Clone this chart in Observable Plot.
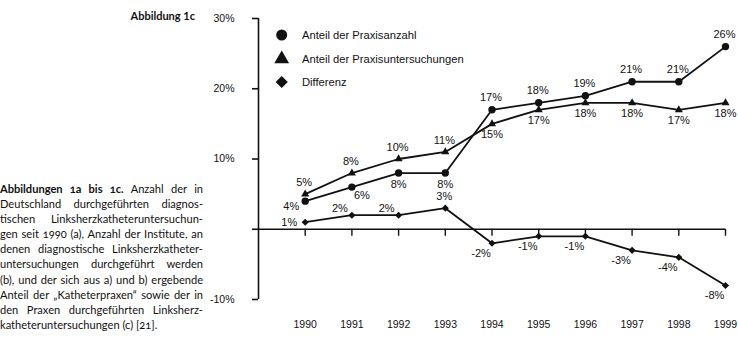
<!DOCTYPE html>
<html><head><meta charset="utf-8">
<script src="https://cdn.jsdelivr.net/npm/d3@7"></script>
<script src="https://cdn.jsdelivr.net/npm/@observablehq/plot@0.6"></script>
<style>
body{margin:0;background:#fff;}
#wrap{position:relative;width:738px;height:357px;overflow:hidden;font-family:"Liberation Sans",Arial,sans-serif;color:#111;}
#chart{position:absolute;left:0;top:0;}
#head{position:absolute;right:543px;top:9px;font-family:Lato,sans-serif;font-weight:bold;font-size:11px;white-space:nowrap;}
#cap{position:absolute;left:0;top:180.5px;width:203px;font-family:Lato,sans-serif;font-size:11.1px;font-variant-numeric:oldstyle-nums;}
#cap div{height:15.2px;line-height:15.2px;text-align:justify;text-align-last:justify;overflow:visible;}
#cap div.last{text-align:left;text-align-last:left;}
#legend{position:absolute;left:0;top:0;pointer-events:none;}
</style></head>
<body><div id="wrap">
<div id="chart"></div>
<div id="head">Abbildung 1c</div>
<div id="cap"></div>
<svg id="legend" width="738" height="357"></svg>
</div>
<script>
const years = [1990,1991,1992,1993,1994,1995,1996,1997,1998,1999];
const praxisanzahl = [4,6,8,8,17,18,19,21,21,26];
const praxisuntersuchungen = [5,8,10,11,15,17,18,18,17,18];
const differenz = [1,2,2,3,-2,-1,-1,-3,-4,-8];
const seriesNames = ["Anteil der Praxisanzahl","Anteil der Praxisuntersuchungen","Differenz"];
const seriesSymbols = ["circle","triangle","diamond2"];
const yTicks = [-10,0,10,20,30];
const captionLines = [
  "<b>Abbildungen 1a bis 1c.</b> Anzahl der in",
  "Deutschland durchgeführten diagnos-",
  "tischen Linksherzkatheteruntersuchun-",
  "gen seit 1990 (a), Anzahl der Institute, an",
  "denen diagnostische Linksherzkatheter-",
  "untersuchungen durchgeführt werden",
  "(b), und der sich aus a) und b) ergebende",
  "Anteil der „Katheterpraxen“ sowie der in",
  "den Praxen durchgeführten Linksherz-",
  "katheteruntersuchungen (c) [21]."
];

// label placement (layout only)
const placements = [
  ["lb","br","b","b","t","t","t","t","t","t"],
  ["t","t","t","t","b","b","b","b","b","b"],
  ["l","tl","tl","t","bl","bl","bl","bl","bl","bl"]
];
const placeStyle = {
  t:{dx:-1,dy:-12,textAnchor:"middle"},
  b:{dx:0,dy:11,textAnchor:"middle"},
  l:{dx:-8,dy:0,textAnchor:"end"},
  lb:{dx:-6,dy:5,textAnchor:"end"},
  tl:{dx:-4,dy:-7,textAnchor:"end"},
  bl:{dx:-11,dy:10,textAnchor:"middle"},
  br:{dx:10,dy:8,textAnchor:"middle"}
};
// marker radius per symbol (style)
const symbolR = {circle: 3.7, triangle: 3.0, diamond2: 3.2};

const seriesValues = [praxisanzahl, praxisuntersuchungen, differenz];
const rows = [];
seriesValues.forEach((vals, s) => vals.forEach((v, i) => rows.push({
  year: years[i], value: v, series: seriesNames[s], sym: seriesSymbols[s], place: placements[s][i]
})));

const xDomain = [years[0]-1, years[years.length-1]];
const yDomain = [d3.min(yTicks), d3.max(yTicks)];

const textMarks = Object.entries(placeStyle).map(([k, st]) =>
  Plot.text(rows.filter(d => d.place === k), {
    x: "year", y: "value", text: d => Math.round(d.value) + "%",
    dx: st.dx, dy: st.dy, textAnchor: st.textAnchor, fontSize: 11, fill: "#111"
  })
);

const chart = Plot.plot({
  width: 738, height: 357,
  marginLeft: 258, marginRight: 13, marginTop: 18, marginBottom: 58,
  style: {fontFamily: "'Liberation Sans', Arial, sans-serif", fontSize: "10.5px", background: "transparent", color: "#111"},
  x: {type: "linear", domain: xDomain},
  y: {domain: yDomain},
  r: {type: "identity"},
  symbol: {domain: seriesNames, range: seriesSymbols},
  marks: [
    Plot.ruleX([xDomain[0]], {y1: yDomain[0], y2: yDomain[1], stroke: "#111", strokeWidth: 1.6}),
    Plot.axisY({ticks: yTicks, tickSize: 6, tickPadding: 18, tickFormat: d => d === 0 ? "" : d + "%", stroke: "#111", strokeWidth: 1.6, label: null, fontSize: 10.5}),
    Plot.ruleY([0], {x1: xDomain[0], x2: xDomain[1], stroke: "#111", strokeWidth: 1.6}),
    Plot.ruleX(years, {x: d => d, y1: 0, y2: 0, insetBottom: -7, stroke: "#111", strokeWidth: 1.4}),
    Plot.axisX({ticks: years, tickSize: 0, tickPadding: 21, tickFormat: d => String(d), label: null, fontSize: 10.5}),
    Plot.line(rows, {x: "year", y: "value", z: "series", stroke: "#111", strokeWidth: 1.8}),
    Plot.dot(rows, {x: "year", y: "value", symbol: "series", r: d => symbolR[d.sym], fill: "#111"}),
    ...textMarks
  ]
});
document.getElementById("chart").append(chart);

// caption
const cap = d3.select("#cap");
captionLines.forEach((t, i) => cap.append("div").attr("class", i === captionLines.length - 1 ? "last" : null).html(t));

// legend
const leg = d3.select("#legend");
const legY = [35, 59, 82];
seriesNames.forEach((name, i) => {
  const sym = {circle: d3.symbolCircle, triangle: d3.symbolTriangle, diamond2: d3.symbolDiamond2}[seriesSymbols[i]];
  leg.append("path").attr("transform", `translate(281.7,${legY[i]})`)
    .attr("d", d3.symbol(sym, 95)()).attr("fill", "#111");
  leg.append("text").attr("x", 302).attr("y", legY[i]).attr("dy", "0.35em")
    .attr("font-family", "'Liberation Sans', Arial, sans-serif").attr("font-size", 11.2).attr("fill", "#111").text(name);
});
</script>
</body></html>
